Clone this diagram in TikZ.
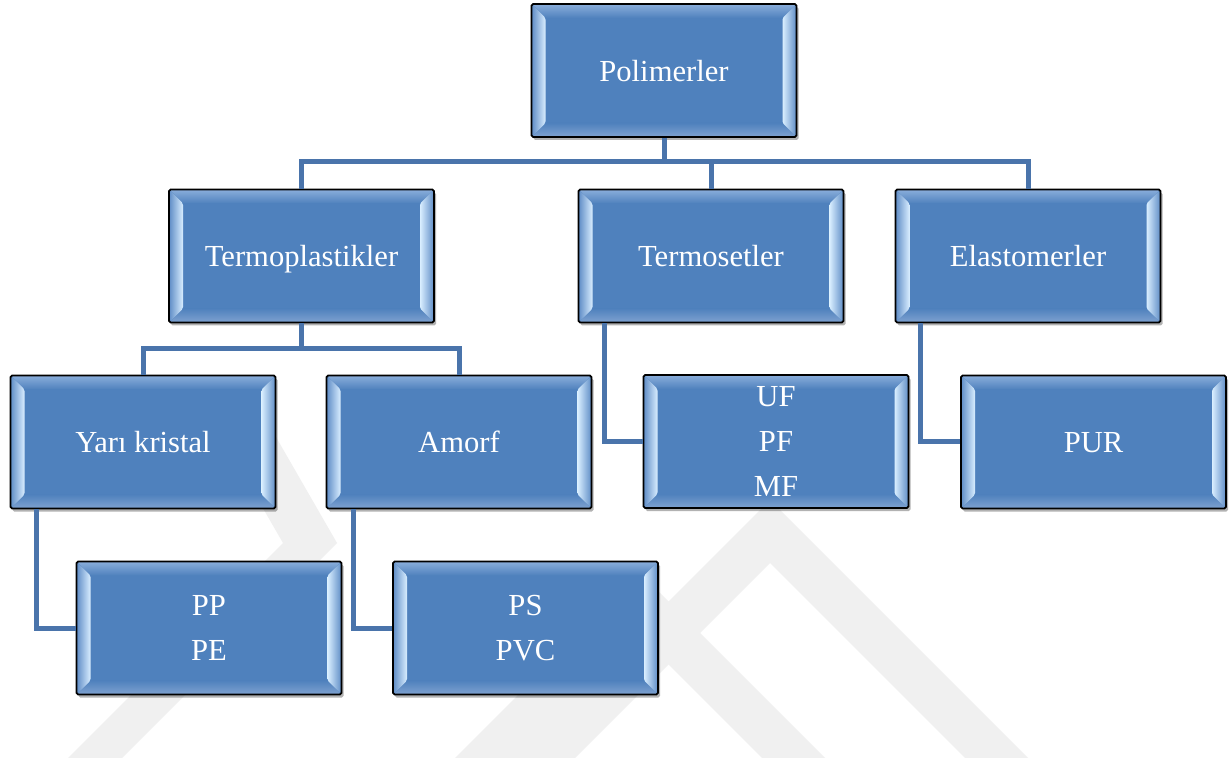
\documentclass[tikz,border=0pt]{standalone}
\usepackage{fontspec}
\setmainfont{Liberation Serif}
\usetikzlibrary{shadows,calc}
\definecolor{boxblue}{HTML}{4F81BD}
\definecolor{connblue}{HTML}{4A74AB}
\definecolor{bvlight}{HTML}{D9EEFF}
\definecolor{bvmid}{HTML}{5E8CC6}
\definecolor{bvtop}{HTML}{8AAEDB}
\definecolor{bvbot}{HTML}{7FA2D0}
\definecolor{wmgray}{HTML}{F0F0F0}
\tikzset{
  bx/.style={draw=black, line width=0.9pt, fill=boxblue, rounded corners=0.8pt,
    minimum width=132.5pt, minimum height=66.5pt, inner sep=0pt, text depth=0pt,
    text=white, font=\fontsize{15.3}{22.5}\selectfont, align=center,
    drop shadow={shadow xshift=1pt, shadow yshift=-1.5pt, opacity=0.3, fill=black},
    path picture={
      \coordinate (bvsw) at (path picture bounding box.south west);
      \coordinate (bvne) at (path picture bounding box.north east);
      \coordinate (bvnw) at (bvsw|-bvne);
      \coordinate (bvse) at (bvne|-bvsw);
      \fill[top color=bvtop, bottom color=boxblue] (bvnw) -- (bvne) -- ($(bvne)+(-7pt,-7pt)$) -- ($(bvnw)+(7pt,-7pt)$) -- cycle;
      \fill[top color=boxblue, bottom color=bvbot] (bvsw) -- (bvse) -- ($(bvse)+(-7pt,7pt)$) -- ($(bvsw)+(7pt,7pt)$) -- cycle;
      \fill[left color=bvmid, right color=bvlight] (bvnw) -- (bvsw) -- ($(bvsw)+(7pt,7pt)$) -- ($(bvnw)+(7pt,-7pt)$) -- cycle;
      \fill[left color=bvlight, right color=bvmid] (bvne) -- (bvse) -- ($(bvse)+(-7pt,7pt)$) -- ($(bvne)+(-7pt,-7pt)$) -- cycle;
    }},
  conn/.style={draw=connblue, line width=2.5pt, line join=miter},
  wm/.style={fill=wmgray, draw=none}
}
\begin{document}
\begin{tikzpicture}[x=0.5pt,y=-0.5pt]
\useasboundingbox[fill=white] (0,0) rectangle (1230,758);
% watermark
\fill[wm] (512,758) -- (770,500) -- (1028,758) -- (965,758) -- (770,563) -- (575,758) -- cycle;
\fill[wm] (455,758) -- (640,573) -- (825,758) -- (762,758) -- (640,636) -- (518,758) -- cycle;
\fill[wm] (337,543) -- (242,378) -- (188,378) -- (283,543) -- (68,758) -- (122,758) -- cycle;
% boxes
\node[bx] (poly)   at (664,70.5)  {Polimerler};
\node[bx] (termop) at (301.5,256) {Termoplastikler};
\node[bx] (termos) at (711,256)   {Termosetler};
\node[bx] (elast)  at (1028,256)  {Elastomerler};
\node[bx] (yari)   at (143,442)   {Yarı kristal};
\node[bx] (amorf)  at (459,442)   {Amorf};
\node[bx] (uf)     at (776,441.5) {UF\\PF\\MF};
\node[bx] (pur)    at (1093.5,442){PUR};
\node[bx] (pp)     at (209,628)   {PP\\PE};
\node[bx] (ps)     at (525.5,628) {PS\\PVC};
% connectors
\coordinate (bus1) at (664,162);
\coordinate (bus2) at (301.5,349);
\draw[conn] (poly.south) -- (bus1);
\draw[conn] (termop.north) |- (bus1) -| (elast.north);
\draw[conn] (termos.north) -- (termos.north |- bus1);
\draw[conn] (termop.south) -- (bus2);
\draw[conn] (yari.north) |- (bus2) -| (amorf.north);
\draw[conn] ([xshift=13.5pt]termos.south west) |- (uf.west);
\draw[conn] ([xshift=13pt]elast.south west) |- (pur.west);
\draw[conn] ([xshift=13.5pt]yari.south west) |- (pp.west);
\draw[conn] ([xshift=14pt]amorf.south west) |- (ps.west);
\end{tikzpicture}
\end{document}
